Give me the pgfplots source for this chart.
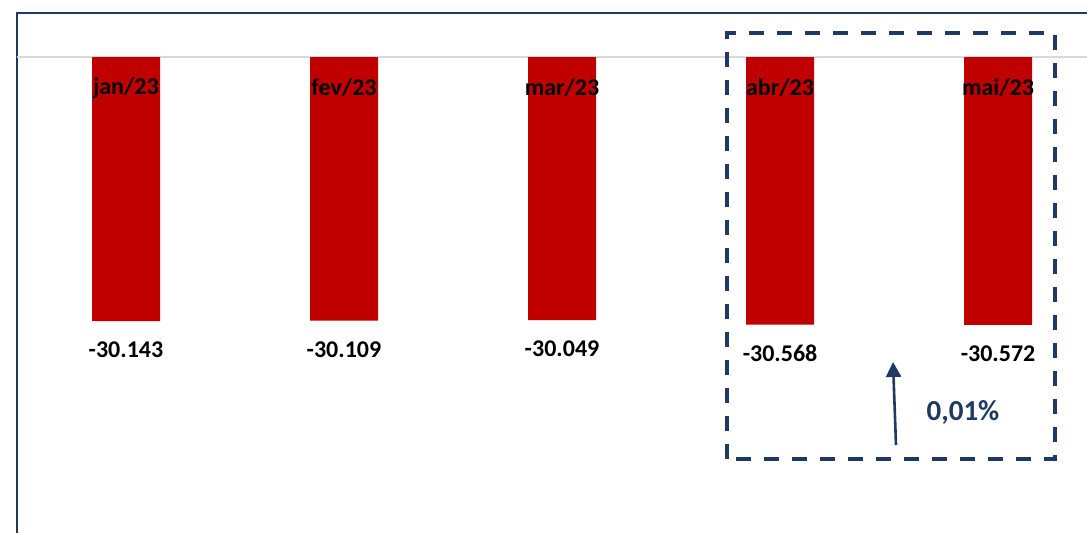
\documentclass[border=0pt]{standalone}
\usepackage{pgfplots}
\pgfplotsset{compat=1.18}
\usepackage{fontspec}
\setmainfont{Carlito}
\usetikzlibrary{arrows.meta}
\definecolor{barred}{HTML}{C00000}
\definecolor{navy}{HTML}{203864}
\definecolor{gridgray}{HTML}{D9D9D9}

\begin{document}
\begin{tikzpicture}[font=\bfseries\fontsize{12}{14}\selectfont]
  \useasboundingbox (0,0) rectangle (543.5pt,266pt);
  % outer frame (only left and top visible) and zero line
  \draw[navy, line width=0.9pt] (8.5pt,-5pt) -- (8.5pt,259.5pt) -- (550pt,259.5pt);
  \draw[gridgray, line width=0.8pt] (8.5pt,237.5pt) -- (550pt,237.5pt);

  \begin{axis}[
      at={(0,0)}, anchor=south west,
      scale only axis, width=543.5pt, height=266pt,
      xmin=-0.578, xmax=4.408,
      ymin=-54234, ymax=6508,
      hide axis, clip=false,
      /pgf/number format/1000 sep={.},
      /pgf/number format/assume math mode=true,
    ]
    \addplot[ybar, bar width=34pt, fill=barred, draw=none,
      nodes near coords, point meta=y,
      nodes near coords style={anchor=center, yshift=-14.5pt, text=black}]
      coordinates {(0,-30143) (1,-30109) (2,-30049) (3,-30568) (4,-30572)};
    \addplot[draw=none, mark=none, nodes near coords, point meta=explicit symbolic,
      nodes near coords style={anchor=center, yshift=-15.5pt, text=black}]
      table[meta=lbl] {
        x y lbl
        0 0 jan/23
        1 0 fev/23
        2 0 mar/23
        3 0 abr/23
        4 0 mai/23
      };
  \end{axis}

  % highlight box around the last two months
  \draw[navy, line width=1.7pt, dash pattern=on 7.5pt off 6.5pt]
    (363.5pt,36.5pt) rectangle (527.5pt,249.5pt);
  \draw[navy, line width=1.3pt, -{Triangle[length=7.5pt,width=7.5pt]}]
    (448pt,43.5pt) -- (446.5pt,85pt);
  \node[navy, font=\bfseries\fontsize{14.5}{17}\selectfont] at (481.5pt,60pt) {0,01\%};
\end{tikzpicture}
\end{document}
